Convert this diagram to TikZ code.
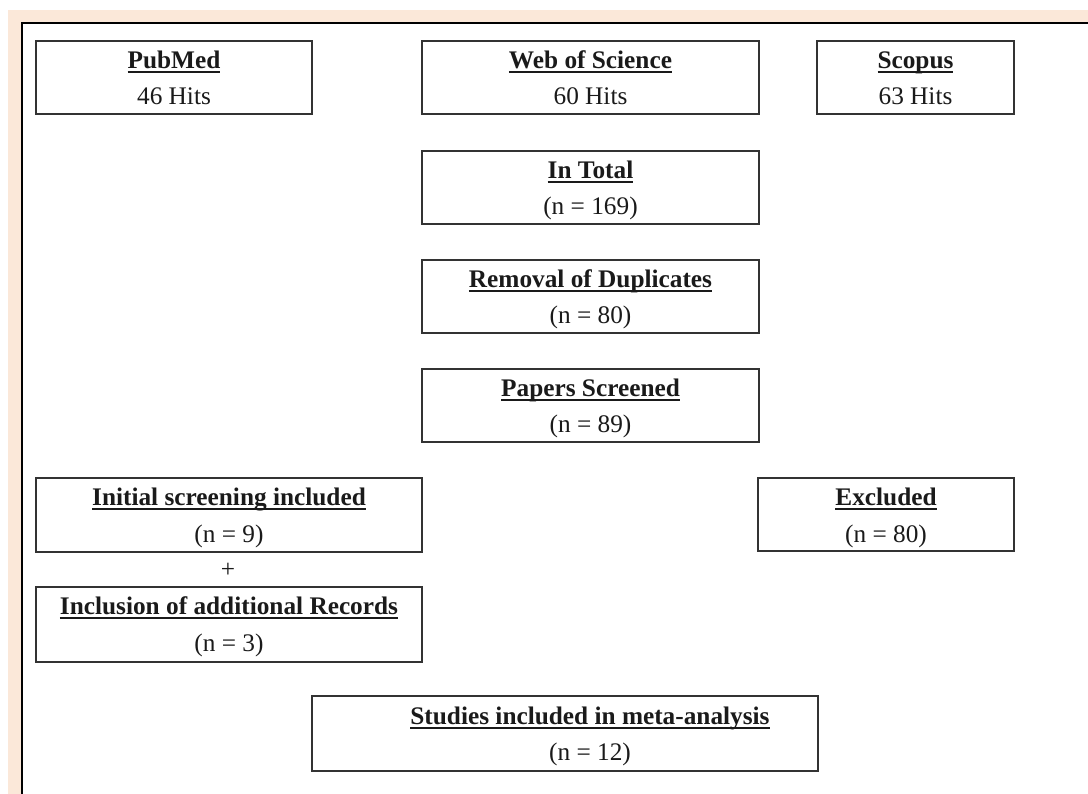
\documentclass[tikz,border=0pt]{standalone}
\usepackage{fontspec}
\setmainfont{Liberation Serif}
\definecolor{peach}{HTML}{FBE8D9}
\definecolor{boxline}{HTML}{333333}
\definecolor{txt}{HTML}{1A1A1A}
\newcommand{\myul}[1]{\setbox0\hbox{#1}\rlap{\rule[-4.5pt]{\wd0}{1.9pt}}\box0}
\tikzset{
  fbox/.style={draw=boxline, line width=1.5pt, fill=white, rectangle, inner sep=0pt, outer sep=0pt, anchor=north west},
  ttl/.style={anchor=base, inner sep=0pt, text=txt, font=\fontsize{25.3}{30}\selectfont\bfseries},
  val/.style={anchor=base, inner sep=0pt, text=txt, font=\fontsize{25.3}{30}\selectfont},
}
\begin{document}
\begin{tikzpicture}[x=1pt,y=-1pt]
\useasboundingbox (0,0) rectangle (1088,794);
\fill[white] (0,0) rectangle (1088,794);
\fill[peach] (8,10) rectangle (1088,794);
\fill[white] (22,23) rectangle (1088,794);
\draw[black, line width=1.8pt] (22,794) -- (22,23) -- (1088,23);

% row 1
\node[fbox, minimum width=276, minimum height=73] (pub) at (36,41) {};
\node[ttl] (pubt) at ([yshift=-27.5pt]pub.north) {\myul{PubMed}};
\node[val] (pubv) at ([yshift=-64pt]pub.north) {46 Hits};

\node[fbox, minimum width=337, minimum height=73] (wos) at (422,41) {};
\node[ttl] (wost) at ([yshift=-27.5pt]wos.north) {\myul{Web of Science}};
\node[val] (wosv) at ([yshift=-64pt]wos.north) {60 Hits};

\node[fbox, minimum width=197, minimum height=73] (sco) at (817,41) {};
\node[ttl] (scot) at ([yshift=-27.5pt]sco.north) {\myul{Scopus}};
\node[val] (scov) at ([yshift=-64pt]sco.north) {63 Hits};

% central column
\node[fbox, minimum width=337, minimum height=73] (tot) at (422,151) {};
\node[ttl] (tott) at ([yshift=-27.5pt]tot.north) {\myul{In Total}};
\node[val] (totv) at ([yshift=-64pt]tot.north) {(n = 169)};

\node[fbox, minimum width=337, minimum height=73] (dup) at (422,260) {};
\node[ttl] (dupt) at ([yshift=-27.5pt]dup.north) {\myul{Removal of Duplicates}};
\node[val] (dupv) at ([yshift=-64pt]dup.north) {(n = 80)};

\node[fbox, minimum width=337, minimum height=73] (scr) at (422,369) {};
\node[ttl] (scrt) at ([yshift=-27.5pt]scr.north) {\myul{Papers Screened}};
\node[val] (scrv) at ([yshift=-64pt]scr.north) {(n = 89)};

% split
\node[fbox, minimum width=386, minimum height=74] (ini) at (36,478) {};
\node[ttl] (init) at ([yshift=-27.5pt]ini.north) {\myul{Initial screening included}};
\node[val] (iniv) at ([yshift=-64.5pt]ini.north) {(n = 9)};

\node[fbox, minimum width=256, minimum height=73] (exc) at (758,478) {};
\node[ttl] (exct) at ([yshift=-27.5pt]exc.north) {\myul{Excluded}};
\node[val] (excv) at ([yshift=-64pt]exc.north) {(n = 80)};

\node[val, anchor=center] (plus) at (228,570) {+};

\node[fbox, minimum width=386, minimum height=75] (inc) at (36,587) {};
\node[ttl] (inct) at ([yshift=-27.5pt]inc.north) {\myul{Inclusion of additional Records}};
\node[val] (incv) at ([yshift=-64.5pt]inc.north) {(n = 3)};

\node[fbox, minimum width=506, minimum height=75] (stu) at (312,696) {};
\node[ttl] (stut) at ([xshift=25pt,yshift=-28pt]stu.north) {\myul{Studies included in meta-analysis}};
\node[val] (stuv) at ([xshift=25pt,yshift=-64.5pt]stu.north) {(n = 12)};
\end{tikzpicture}
\end{document}
